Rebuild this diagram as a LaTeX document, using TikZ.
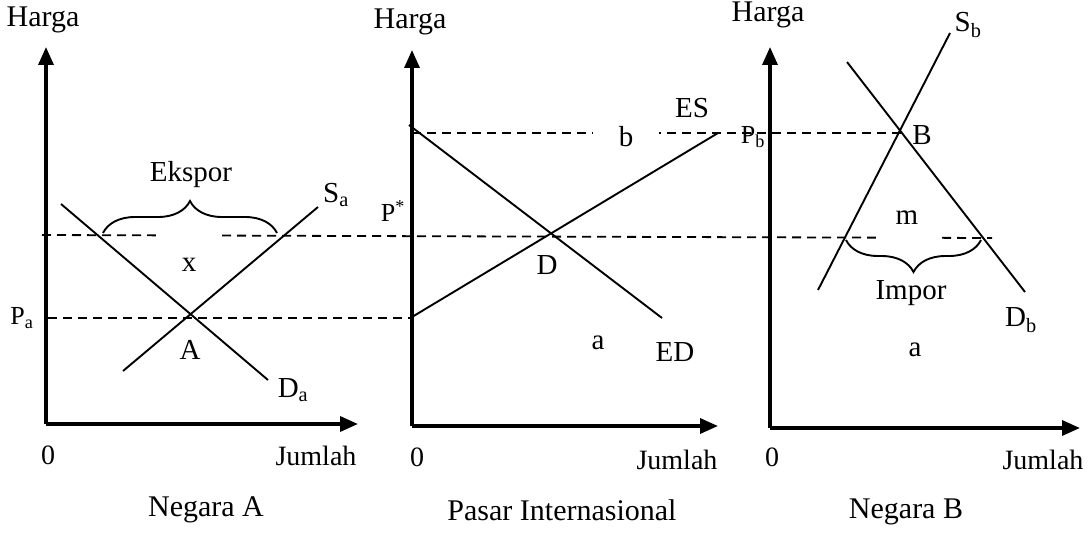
\documentclass[tikz,border=0pt]{standalone}
\usepackage{fontspec}
\setmainfont{Liberation Serif}
\usetikzlibrary{arrows.meta, decorations.pathreplacing, backgrounds}

\begin{document}
\begin{tikzpicture}[x=1pt, y=-1pt,
  every node/.style = {font=\fontsize{29}{33}\selectfont, inner sep=0pt},
  axis/.style    = {line width=3.3pt, -{Triangle[length=18pt, width=15pt]}},
  curve/.style   = {line width=1.9pt},
  guide/.style   = {line width=1.8pt, dash pattern=on 9pt off 6pt},
  axlabel/.style = {font=\fontsize{28}{32}\selectfont},
  price/.style   = {font=\fontsize{26}{30}\selectfont},
  title/.style   = {font=\fontsize{30}{34}\selectfont},
  blank/.style   = {fill=white},
  bracket/.style = {line width=1.9pt, decorate, decoration={brace, amplitude=32pt, aspect=0.5}}
]
\useasboundingbox (0,0) rectangle (1089,535);

%% AXES: Negara A, Pasar Internasional, Negara B
\coordinate (oA) at (46,424);   \coordinate (yA) at (46,47);   \coordinate (xA) at (358,424);
\coordinate (oP) at (412,426);  \coordinate (yP) at (412,50);  \coordinate (xP) at (718,426);
\coordinate (oB) at (770,428);  \coordinate (yB) at (770,47);  \coordinate (xB) at (1080,428);
\draw[axis] (oA) -- (yA);
\draw[axis] (oA) -- (xA);
\draw[axis] (oP) -- (yP);
\draw[axis] (oP) -- (xP);
\draw[axis] (oB) -- (yB);
\draw[axis] (oB) -- (xB);

\node[axlabel, font=\fontsize{30}{34}\selectfont] (hA) at (43,20)   {Harga};
\node[axlabel, font=\fontsize{30}{34}\selectfont] (hP) at (410,22)  {Harga};
\node[axlabel, font=\fontsize{30}{34}\selectfont] (hB) at (768,15)  {Harga};
\node[axlabel] (zA) at (48,455)  {0};
\node[axlabel] (zP) at (417,457) {0};
\node[axlabel] (zB) at (772,457) {0};
\node[axlabel] (jA) at (316,456) {Jumlah};
\node[axlabel] (jP) at (677,460) {Jumlah};
\node[axlabel] (jB) at (1043,460){Jumlah};

%% PRICE LEVELS
\coordinate (pbL)  at (412,133);  \coordinate (pbR)  at (902,133);
\coordinate (psL)  at (42,235);   \coordinate (psR)  at (992,238);
\coordinate (paL)  at (48,318);   \coordinate (paR)  at (412,318);
\begin{pgfonlayer}{background}
  \draw[guide] (pbL) -- (pbR);
  \draw[guide] (psL) -- (psR);
  \draw[guide] (paL) -- (paR);
\end{pgfonlayer}

\node[blank, minimum width=66pt, minimum height=68pt] (x) at (189,265) {x};
\node[blank, minimum width=66pt, minimum height=30pt] (b) at (626,137) {b};
\node[blank, minimum width=63pt, minimum height=48pt] (m) at (907,218) {m};

%% CURVES
\coordinate (sa1) at (123,371);  \coordinate (sa2) at (318,207);
\coordinate (da1) at (61,204);   \coordinate (da2) at (268,380);
\coordinate (es1) at (412,317);  \coordinate (es2) at (718,133);
\coordinate (ed1) at (409,125);  \coordinate (ed2) at (662,318);
\coordinate (sb1) at (818,290);  \coordinate (sb2) at (950,33);
\coordinate (db1) at (847,62);   \coordinate (db2) at (1025,292);
\draw[curve] (sa1) -- (sa2);
\draw[curve] (da1) -- (da2);
\draw[curve] (es1) -- (es2);
\draw[curve] (ed1) -- (ed2);
\draw[curve] (sb1) -- (sb2);
\draw[curve] (db1) -- (db2);

%% BRACES
\coordinate (ekL) at (103,233);  \coordinate (ekR) at (277,233);
\coordinate (imL) at (846,240);  \coordinate (imR) at (981,240);
\draw[bracket] (ekL) -- (ekR);
\draw[bracket] (imR) -- (imL);
\node (ekspor) at (191,175) {Ekspor};
\node (impor)  at (911,293) {Impor};

%% LABELS
\node (Sa) at (336,195) {S\textsubscript{a}};
\node (Da) at (293,390) {D\textsubscript{a}};
\node (ES) at (692,108) {ES};
\node (ED) at (675,352) {ED};
\node (Sb) at (968,25)  {S\textsubscript{b}};
\node (Db) at (1021,320){D\textsubscript{b}};
\node[price] (Pa) at (22,318)  {P\textsubscript{a}};
\node[price] (Ps) at (393,211) {P\textsuperscript{*}};
\node[price] (Pb) at (753,137) {P\textsubscript{b}};
\node (ptA) at (190,350) {A};
\node (ptD) at (547,265) {D};
\node (ptB) at (922,135) {B};
\node (aP) at (598,343) {a};
\node (aB) at (915,350) {a};

\node[title] (tA) at (206,510) {Negara A};
\node[title] (tP) at (562,510) {Pasar Internasional};
\node[title] (tB) at (906,512) {Negara B};
\end{tikzpicture}
\end{document}
